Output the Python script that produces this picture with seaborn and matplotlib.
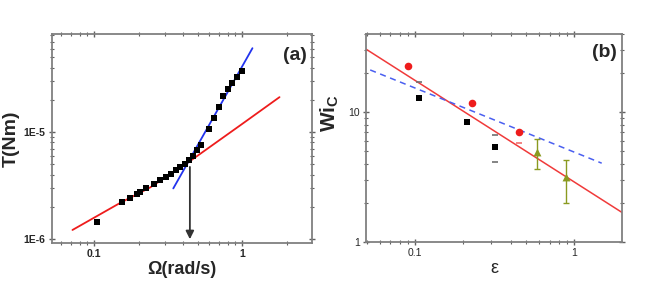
import matplotlib
matplotlib.use("Agg")
import matplotlib.pyplot as plt
import numpy as np
import seaborn as sns

# ── Panel (a): torque vs angular velocity ────────────────────────────────────
omega = [0.104, 0.155, 0.174, 0.194, 0.204, 0.226, 0.253, 0.279, 0.304, 0.329,
         0.356, 0.380, 0.411, 0.440, 0.468, 0.499, 0.531, 0.601, 0.650, 0.703,
         0.748, 0.800, 0.851, 0.920, 0.996]
torque = [1.44e-6, 2.21e-6, 2.40e-6, 2.67e-6, 2.78e-6, 3.02e-6, 3.31e-6, 3.56e-6,
          3.82e-6, 4.10e-6, 4.40e-6, 4.73e-6, 5.08e-6, 5.46e-6, 5.94e-6, 6.86e-6,
          7.63e-6, 1.07e-5, 1.35e-5, 1.71e-5, 2.19e-5, 2.53e-5, 2.85e-5, 3.24e-5,
          3.74e-5]
fit_low_x = [0.0715, 0.149, 0.238, 0.401, 1.0, 1.79]
fit_low_y = [1.22e-6, 2.17e-6, 3.03e-6, 4.84e-6, 1.19e-5, 2.12e-5]
fit_high_x = [0.343, 1.175]
fit_high_y = [2.98e-6, 6.07e-5]
omega_c = 0.444
arrow_y = [4.73e-6, 1.0e-6]

# ── Panel (b): critical Wi vs strain ─────────────────────────────────────────
sq_eps = [0.105, 0.211, 0.316]
sq_wi = [12.8, 8.47, 5.43]
sq_err_lo = [0.0, 0.0, 1.31]
sq_err_hi = [4.4, 0.0, 1.25]
ci_eps = [0.0908, 0.226, 0.452]
ci_wi = [22.9, 11.7, 7.01]
ci_err_lo = [0.0, 0.0, 1.18]
ci_err_hi = [0.0, 0.0, 0.0]
tr_eps = [0.583, 0.883]
tr_wi = [4.98, 3.19]
tr_err_lo = [1.35, 1.18]
tr_err_hi = [1.21, 1.10]
red_fit_x = [0.0493, 1.99]
red_fit_y = [30.6, 1.69]
blue_fit_x = [0.0522, 1.485]
blue_fit_y = [21.2, 4.05]

sns.set_theme(style="white")
plt.rcParams["font.family"] = ["Liberation Sans", "DejaVu Sans"]
plt.rcParams["mathtext.fontset"] = "custom"
plt.rcParams["mathtext.rm"] = "Liberation Sans"
plt.rcParams["mathtext.bf"] = "Liberation Sans:bold"

fig = plt.figure(figsize=(6.54, 2.85), dpi=100)
ax1 = fig.add_axes([0.0795, 0.147, 0.398, 0.733])
ax2 = fig.add_axes([0.560, 0.151, 0.391, 0.730])

for ax in (ax1, ax2):
    ax.set_xscale("log")
    ax.set_yscale("log")
    for s in ax.spines.values():
        s.set_color("#808080")
        s.set_linewidth(1.3)
    ax.tick_params(which="both", direction="inout", color="#606060",
                   bottom=True, left=True, top=True, right=True)
    ax.tick_params(which="major", length=5, width=1.0)
    ax.tick_params(which="minor", length=3, width=0.8)
    ax.tick_params(labeltop=False, labelright=False)

# panel (a)
sns.lineplot(x=fit_low_x, y=fit_low_y, ax=ax1, color="#ee1c1c", lw=1.3,
             sort=False, estimator=None)
sns.lineplot(x=fit_high_x, y=fit_high_y, ax=ax1, color="#2233ee", lw=1.3,
             sort=False, estimator=None)
sns.scatterplot(x=omega, y=torque, ax=ax1, marker="s", s=24, color="black",
                edgecolor="black", linewidth=0, zorder=3)
ax1.annotate("", xy=(omega_c, arrow_y[1]), xytext=(omega_c, arrow_y[0]),
             arrowprops=dict(arrowstyle="-|>", color="#333333", lw=1.3,
                             mutation_scale=12, shrinkA=0, shrinkB=0))
ax1.set_xlim(0.052, 2.98)
ax1.set_ylim(9.2e-7, 8.2e-5)
ax1.set_xticks([0.1, 1])
ax1.set_xticklabels(["0.1", "1"])
ax1.set_yticks([1e-6, 1e-5])
ax1.set_yticklabels(["1E-6", "1E-5"])
for lab in ax1.get_xticklabels() + ax1.get_yticklabels():
    lab.set_fontweight("bold")
    lab.set_fontsize(7.5)
ax1.tick_params(axis="both", which="major", pad=2)
ax1.set_xlabel("Ω(rad/s)", fontsize=13, fontweight="bold", labelpad=1)
ax1.set_ylabel("T(Nm)", fontsize=14, fontweight="bold", labelpad=3)
ax1.text(0.935, 0.90, "(a)", transform=ax1.transAxes, fontsize=14,
         fontweight="bold", ha="center", va="center")

# panel (b)
sns.lineplot(x=red_fit_x, y=red_fit_y, ax=ax2, color="#f03a3a", lw=1.1,
             sort=False, estimator=None)
sns.lineplot(x=blue_fit_x, y=blue_fit_y, ax=ax2, color="#4a5ff0", lw=1.1,
             sort=False, estimator=None, linestyle=(0, (4, 3)))
ax2.errorbar(sq_eps, sq_wi, yerr=[sq_err_lo, sq_err_hi], fmt="none",
             ecolor="#707070", elinewidth=0, capsize=2.5, capthick=1.2)
ax2.errorbar(ci_eps, ci_wi, yerr=[ci_err_lo, ci_err_hi], fmt="none",
             ecolor="#f07070", elinewidth=0, capsize=2.5, capthick=1.2)
ax2.errorbar(tr_eps, tr_wi, yerr=[tr_err_lo, tr_err_hi], fmt="none",
             ecolor="#8a9a20", elinewidth=1.0, capsize=2.5, capthick=1.0)
sns.scatterplot(x=sq_eps, y=sq_wi, ax=ax2, marker="s", s=24, color="black",
                linewidth=0, zorder=3)
sns.scatterplot(x=ci_eps, y=ci_wi, ax=ax2, marker="o", s=30, color="#ee1c1c",
                linewidth=0, zorder=3)
sns.scatterplot(x=tr_eps, y=tr_wi, ax=ax2, marker="^", s=32, color="#8a9a20",
                linewidth=0, zorder=3)
ax2.set_xlim(0.0493, 1.99)
ax2.set_ylim(1, 40.2)
ax2.set_xticks([0.1, 1])
ax2.set_xticklabels(["0.1", "1"])
ax2.set_yticks([1, 10])
ax2.set_yticklabels(["1", "10"])
for lab in ax2.get_xticklabels() + ax2.get_yticklabels():
    lab.set_fontsize(7.5)
ax2.tick_params(axis="both", which="major", pad=2)
ax2.set_xlabel("ε", fontsize=13, labelpad=1)
ax2.set_ylabel(r"$\mathbf{Wi_C}$", fontsize=15)
ax2.yaxis.set_label_coords(-0.1, 0.62)
ax2.text(0.93, 0.913, "(b)", transform=ax2.transAxes, fontsize=14,
         fontweight="bold", ha="center", va="center")

fig.savefig("out.png", dpi=100)
